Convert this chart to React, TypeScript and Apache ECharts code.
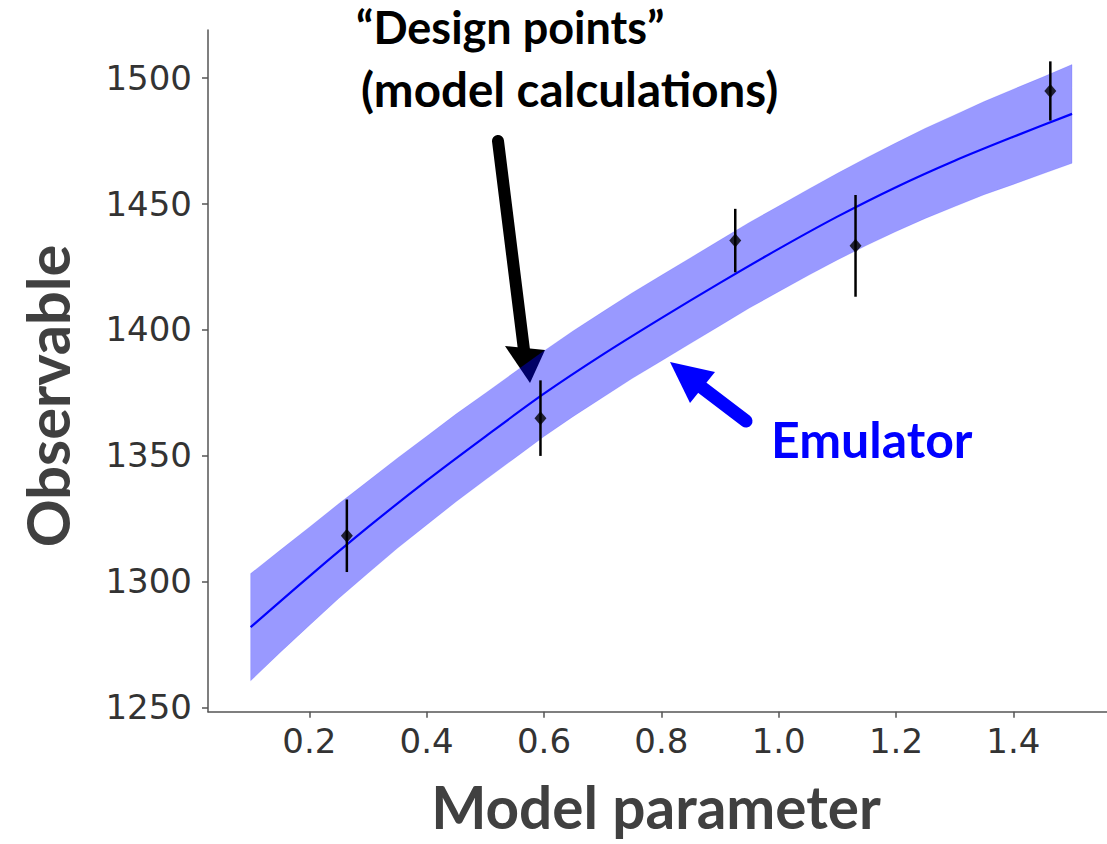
import React, { useEffect, useRef } from "react";
import * as echarts from "echarts";

// Emulator mean curve
const meanX = [0.1, 0.2, 0.3, 0.4, 0.5, 0.6, 0.7, 0.8, 0.9, 1.0, 1.1, 1.2, 1.3, 1.4, 1.5];
const meanY = [1281.8, 1302, 1321.5, 1340, 1357.5, 1374.5, 1390, 1404.5, 1418.5, 1432, 1444.8, 1456.5, 1467, 1476.5, 1485.6];

// Emulator uncertainty band
const bandX = [0.1, 0.15, 0.2, 0.25, 0.3, 0.35, 0.4, 0.45, 0.5, 0.55, 0.6, 0.65, 0.7, 0.75, 0.8, 0.85, 0.9, 0.95, 1.0, 1.05, 1.1, 1.15, 1.2, 1.25, 1.3, 1.35, 1.4, 1.45, 1.5];
const bandLower = [1260.5, 1271.7, 1282.5, 1293.2, 1303.2, 1313.1, 1322.4, 1331.6, 1340.3, 1348.9, 1357.5, 1365.5, 1373, 1380.5, 1387.5, 1394.5, 1401.5, 1408.5, 1415, 1421.4, 1427.6, 1433.4, 1438.9, 1444.1, 1448.8, 1453.5, 1457.6, 1461.8, 1466];
const bandUpper = [1303.1, 1312.3, 1321.5, 1330.8, 1339.8, 1348.9, 1357.6, 1366.4, 1374.7, 1383.1, 1391.5, 1399.5, 1407, 1414.5, 1421.5, 1428.5, 1435.5, 1442.5, 1449, 1455.6, 1462, 1468.2, 1474.1, 1479.9, 1485.2, 1490.5, 1495.4, 1500.2, 1505.2];

// Design points (model calculations)
const designX = [0.264, 0.594, 0.926, 1.131, 1.463];
const designY = [1318.1, 1364.8, 1435.3, 1433.2, 1494.7];
const designErr = [14.4, 15, 12.6, 20.2, 11.75];

// Axis ticks
const xTicks = [0.2, 0.4, 0.6, 0.8, 1.0, 1.2, 1.4];
const yTicks = [1250, 1300, 1350, 1400, 1450, 1500];

const TITLE_FONT = "Lato";
const TICK_FONT = "DejaVu Sans";

export default function App() {
  const ref = useRef<HTMLDivElement>(null);

  useEffect(() => {
    if (!ref.current) return;
    const chart = echarts.init(ref.current, undefined, { renderer: "svg" });

    const bandData = bandX.map((x, i) => [x, bandLower[i], bandUpper[i]]);
    const meanData = meanX.map((x, i) => [x, meanY[i]]);
    const errData = designX.map((x, i) => [x, designY[i] - designErr[i], designY[i] + designErr[i]]);
    const ptData = designX.map((x, i) => [x, designY[i]]);

    const axisColor = "#555";

    const option: any = {
      animation: false,
      backgroundColor: "#fff",
      grid: {
        left: 208,
        top: 30,
        right: 0,
        bottom: 132.3,
        containLabel: false,
        outerBoundsMode: "none",
      },
      xAxis: {
        type: "value",
        min: 0.02734,
        max: 1.5596,
        splitLine: { show: false },
        axisLine: { show: true, lineStyle: { color: axisColor, width: 1.5 } },
        axisTick: {
          show: true,
          length: 6,
          customValues: xTicks,
          lineStyle: { color: axisColor, width: 1.5 },
        },
        axisLabel: {
          customValues: xTicks,
          formatter: (v: number) => v.toFixed(1),
          fontFamily: TICK_FONT,
          fontSize: 34,
          color: "#333",
          margin: 12,
        },
      },
      yAxis: {
        type: "value",
        min: 1248.25,
        max: 1518.9,
        splitLine: { show: false },
        axisLine: { show: true, lineStyle: { color: axisColor, width: 1.5 } },
        axisTick: {
          show: true,
          length: 6,
          customValues: yTicks,
          lineStyle: { color: axisColor, width: 1.5 },
        },
        axisLabel: {
          customValues: yTicks,
          formatter: (v: number) => String(v),
          fontFamily: TICK_FONT,
          fontSize: 34,
          color: "#333",
          margin: 16,
        },
      },
      series: [
        {
          type: "custom",
          name: "band",
          data: bandData,
          encode: { x: 0, y: [1, 2] },
          renderItem: (params: any, api: any) => {
            if (params.dataIndex !== 0) return null;
            const top = bandData.map((d) => api.coord([d[0], d[2]]));
            const bottom = bandData.map((d) => api.coord([d[0], d[1]])).reverse();
            return {
              type: "polygon",
              shape: { points: top.concat(bottom) },
              style: { fill: "rgba(0,0,255,0.4)", stroke: "rgba(0,0,255,0.12)", lineWidth: 1 },
            };
          },
          z: 1,
        },
        {
          type: "line",
          name: "mean",
          data: meanData,
          smooth: 0.3,
          showSymbol: false,
          lineStyle: { color: "#0000ff", width: 2.2 },
          z: 2,
        },
        {
          type: "custom",
          name: "errors",
          data: errData,
          encode: { x: 0, y: [1, 2] },
          renderItem: (params: any, api: any) => {
            const x = api.value(0);
            const p1 = api.coord([x, api.value(1)]);
            const p2 = api.coord([x, api.value(2)]);
            return {
              type: "line",
              shape: { x1: p1[0], y1: p1[1], x2: p2[0], y2: p2[1] },
              style: { stroke: "#000", lineWidth: 2.5 },
            };
          },
          z: 3,
        },
        {
          type: "scatter",
          name: "design",
          data: ptData,
          symbol: "diamond",
          symbolSize: [12, 14],
          itemStyle: { color: "#000" },
          z: 4,
        },
      ],
      graphic: [
        {
          type: "text",
          x: 47,
          y: 396,
          rotation: Math.PI / 2,
          style: {
            text: "Observable",
            font: `bold 59.5px ${TITLE_FONT}`,
            fill: "#404040",
            align: "center",
            verticalAlign: "middle",
          },
        },
        {
          type: "text",
          x: 656,
          y: 806,
          style: {
            text: "Model parameter",
            font: `bold 58.5px ${TITLE_FONT}`,
            fill: "#404040",
            align: "center",
            verticalAlign: "middle",
          },
        },
        {
          type: "text",
          x: 356,
          y: 27,
          style: {
            text: "\u201CDesign points\u201D",
            font: `bold 45px ${TITLE_FONT}`,
            fill: "#000",
            align: "left",
            verticalAlign: "middle",
          },
        },
        {
          type: "text",
          x: 361,
          y: 88,
          style: {
            text: "(model calculations)",
            font: `bold 47.5px ${TITLE_FONT}`,
            fill: "#000",
            align: "left",
            verticalAlign: "middle",
          },
        },
        {
          type: "text",
          x: 771,
          y: 439,
          style: {
            text: "Emulator",
            font: `bold 50px ${TITLE_FONT}`,
            fill: "#0000ff",
            align: "left",
            verticalAlign: "middle",
          },
        },
        // black arrow
        {
          type: "line",
          shape: { x1: 498, y1: 141, x2: 524, y2: 350 },
          style: { stroke: "#000", lineWidth: 12, lineCap: "round" },
        },
        {
          type: "polygon",
          shape: { points: [[505, 346], [545, 350], [530, 383]] },
          style: { fill: "#000" },
        },
        // blue arrow
        {
          type: "line",
          shape: { x1: 700, y1: 386, x2: 746, y2: 421 },
          style: { stroke: "#0000ff", lineWidth: 13, lineCap: "round" },
        },
        {
          type: "polygon",
          shape: { points: [[670, 362], [715, 372], [690, 403]] },
          style: { fill: "#0000ff" },
        },
      ],
    };

    chart.setOption(option);
    return () => chart.dispose();
  }, []);

  return (
    <div
      ref={ref}
      style={{ position: "fixed", left: 0, top: 0, width: 1107, height: 844, background: "#fff" }}
    />
  );
}
